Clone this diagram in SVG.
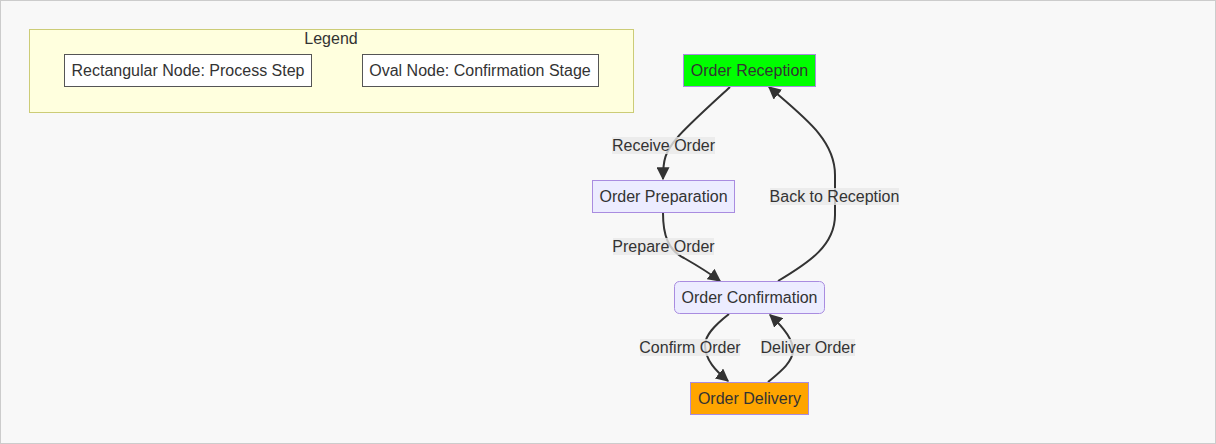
<svg xmlns="http://www.w3.org/2000/svg" width="1216" height="444" viewBox="0 0 1216 444">
<style>
text{font-family:"Liberation Sans",Arial,sans-serif;font-size:16px;fill:#333;text-anchor:middle;dominant-baseline:central}
.node{stroke:#a98ce0;stroke-width:1}
.leg{fill:#fff;stroke:#555;stroke-width:1}
.edge{fill:none;stroke:#333;stroke-width:2}
.lbl{fill:#e8e8e8;opacity:0.8}
</style>
<defs>
<marker id="arr" viewBox="0 0 10 10" refX="9" refY="5" markerWidth="6.5" markerHeight="6.5" markerUnits="strokeWidth" orient="auto">
<path d="M0,0 L10,5 L0,10 z" fill="#333"/>
</marker>
</defs>
<rect x="0.5" y="0.5" width="1215" height="443" fill="#f8f8f8" stroke="#ccc"/>
<g id="legend">
<rect x="29.5" y="29.5" width="604" height="83" fill="#ffffde" stroke="#cccc77"/>
<text x="331" y="38">Legend</text>
<g id="legend-rect">
<rect class="leg" x="64.5" y="54.5" width="247" height="32"/>
<text x="188" y="70.5">Rectangular Node: Process Step</text>
</g>
<g id="legend-oval">
<rect class="leg" x="362.5" y="54.5" width="236" height="32"/>
<text x="480" y="70.5">Oval Node: Confirmation Stage</text>
</g>
</g>
<g id="edges">
<path class="edge" d="M730,87 C705,110 685,128 677,138 C665,152 663,160 663,179" marker-end="url(#arr)"/>
<path class="edge" d="M663,213 C663,235 668,250 684,258 C698,266 708,272 720,281" marker-end="url(#arr)"/>
<path class="edge" d="M778,281 C810,262 835,245 835,215 L835,175 C835,140 805,118 769,87" marker-end="url(#arr)"/>
<path class="edge" d="M729,314 C715,325 705,335 705,345 C705,360 716,371 728,381" marker-end="url(#arr)"/>
<path class="edge" d="M768,382 C780,372 793,362 793,350 C793,338 782,326 770,315" marker-end="url(#arr)"/>
<rect class="lbl" x="612" y="137" width="103" height="17"/>
<text x="663.5" y="145.5">Receive Order</text>
<rect class="lbl" x="613" y="238" width="101" height="17"/>
<text x="663.5" y="246.5">Prepare Order</text>
<rect class="lbl" x="770" y="188" width="129" height="17"/>
<text x="834.5" y="196.5">Back to Reception</text>
<rect class="lbl" x="640" y="339" width="100" height="17"/>
<text x="690" y="347.5">Confirm Order</text>
<rect class="lbl" x="761" y="339" width="94" height="17"/>
<text x="808" y="347.5">Deliver Order</text>
</g>
<g id="reception">
<rect class="node" x="683.5" y="54.5" width="132" height="32" fill="#00ff00"/>
<text x="749.5" y="70.5">Order Reception</text>
</g>
<g id="preparation">
<rect class="node" x="592.5" y="180.5" width="142" height="32" fill="#ececff"/>
<text x="663.5" y="196.5">Order Preparation</text>
</g>
<g id="confirmation">
<rect class="node" x="674.5" y="281.5" width="150" height="32" rx="5" fill="#ececff"/>
<text x="749.5" y="297.5">Order Confirmation</text>
</g>
<g id="delivery">
<rect class="node" x="690.5" y="382.5" width="118" height="32" fill="#ffa500"/>
<text x="749.5" y="398.5">Order Delivery</text>
</g>
</svg>
